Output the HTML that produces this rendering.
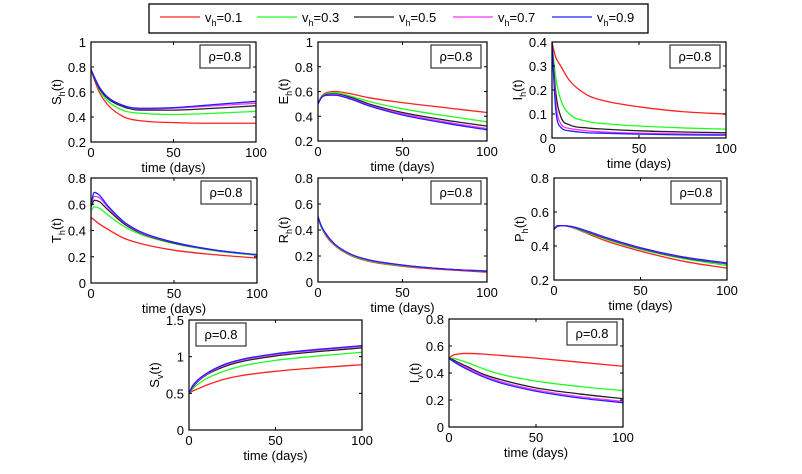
<!DOCTYPE html>
<html><head><meta charset="utf-8"><style>
html,body{margin:0;padding:0;background:#fff}
svg{display:block;font-family:"Liberation Sans",sans-serif}
</style></head><body>
<svg id="fig" width="802" height="474" viewBox="0 0 802 474"></svg>
<script>
const tVals=[0,2,5,10,20,30,50,75,100];
const seriesLabels=["0.1","0.3","0.5","0.7","0.9"];
const colors=["#ff2020","#20ff20","#222222","#ff30ff","#2020ff"];
const shData=[[.78,.7,.6,.5,.4,.37,.355,.35,.35],[.78,.71,.62,.53,.45,.43,.42,.43,.445],[.78,.71,.63,.55,.48,.455,.455,.47,.49],[.78,.72,.64,.56,.49,.465,.47,.49,.51],[.78,.72,.64,.56,.49,.47,.475,.5,.525]];
const ehData=[[.5,.56,.59,.6,.58,.55,.51,.47,.43],[.5,.555,.58,.59,.56,.52,.46,.405,.355],[.5,.55,.575,.58,.55,.5,.43,.37,.32],[.5,.55,.57,.575,.54,.49,.42,.355,.3],[.5,.55,.57,.57,.535,.485,.41,.345,.29]];
const ihData=[[.4,.34,.3,.24,.18,.155,.13,.11,.1],[.4,.26,.16,.1,.07,.06,.05,.042,.037],[.4,.2,.09,.055,.042,.037,.03,.025,.022],[.4,.16,.06,.04,.03,.025,.02,.017,.015],[.4,.13,.045,.03,.022,.02,.016,.013,.012]];
const thData=[[.5,.48,.45,.41,.34,.3,.25,.215,.19],[.55,.58,.57,.52,.43,.37,.3,.245,.21],[.58,.63,.62,.56,.45,.38,.305,.25,.215],[.6,.66,.65,.58,.46,.385,.31,.25,.215],[.6,.69,.67,.59,.465,.39,.31,.25,.215]];
const rhData=[[.5,.42,.35,.28,.2,.16,.12,.095,.075],[.5,.42,.36,.285,.205,.165,.125,.1,.08],[.5,.43,.365,.29,.21,.17,.13,.1,.082],[.5,.43,.365,.29,.21,.17,.13,.1,.083],[.5,.43,.365,.29,.21,.17,.13,.1,.084]];
const phData=[[.5,.515,.52,.51,.47,.43,.37,.31,.27],[.5,.515,.52,.512,.475,.44,.38,.325,.285],[.5,.515,.52,.513,.48,.445,.385,.33,.295],[.5,.518,.52,.514,.483,.448,.388,.333,.298],[.5,.52,.52,.515,.485,.45,.39,.335,.3]];
const svData=[[.5,.53,.56,.61,.69,.74,.8,.85,.89],[.5,.56,.62,.7,.8,.87,.95,1.01,1.06],[.5,.58,.66,.75,.86,.93,1.01,1.07,1.12],[.5,.59,.67,.76,.88,.95,1.03,1.09,1.14],[.5,.6,.68,.77,.89,.96,1.04,1.1,1.15]];
const ivData=[[.51,.53,.54,.545,.54,.53,.51,.48,.45],[.51,.51,.5,.48,.43,.39,.34,.3,.27],[.51,.5,.48,.45,.39,.35,.29,.245,.21],[.51,.49,.47,.44,.38,.335,.275,.225,.19],[.51,.49,.465,.43,.37,.325,.265,.215,.18]];
const xTicks=[0,50,100];
const yTicks1=[0.2,0.4,0.6,0.8,1];
const yTicks3=[0,0.1,0.2,0.3,0.4];
const yTicks08=[0,0.2,0.4,0.6,0.8];
const yTicksP=[0.2,0.4,0.6,0.8];
const yTicksSv=[0,0.5,1,1.5];

const NS="http://www.w3.org/2000/svg";
const svg=document.getElementById('fig');
function el(tag,attrs,parent){const e=document.createElementNS(NS,tag);for(const k in attrs)e.setAttribute(k,attrs[k]);(parent||svg).appendChild(e);return e;}

const lg=el('g',{});


el('rect',{x:149,y:4,width:499,height:29,fill:'#fff',stroke:'#000','stroke-width':1.3},lg);
const lx=[160,257,354,453,552];
seriesLabels.forEach((s,i)=>{
  const g=el('g',{},lg);
  
  
  el('line',{x1:lx[i],x2:lx[i]+40,y1:17,y2:17,stroke:colors[i],'stroke-width':1.3},g);
  const t=el('text',{x:lx[i]+45,y:22,'font-size':13},g);
  t.innerHTML='v<tspan font-size="9" dy="4">h</tspan><tspan dy="-4">='+s+'</tspan>';
});

// monotone cubic (Fritsch-Carlson) path
function monoPath(xs,ys){
  const n=xs.length,dx=[],m=[],tg=new Array(n);
  for(let i=0;i<n-1;i++){dx.push(xs[i+1]-xs[i]);m.push((ys[i+1]-ys[i])/dx[i]);}
  tg[0]=m[0];tg[n-1]=m[n-2];
  for(let i=1;i<n-1;i++){tg[i]=(m[i-1]*m[i]<=0)?0:(m[i-1]+m[i])/2;}
  for(let i=0;i<n-1;i++){
    if(m[i]===0){tg[i]=0;tg[i+1]=0;continue;}
    const a=tg[i]/m[i],b=tg[i+1]/m[i],s=a*a+b*b;
    if(s>9){const k=3/Math.sqrt(s);tg[i]=k*a*m[i];tg[i+1]=k*b*m[i];}
  }
  let d='M'+xs[0]+','+ys[0];
  for(let i=0;i<n-1;i++){
    const h=dx[i]/3;
    d+=' C'+(xs[i]+h)+','+(ys[i]+tg[i]*h)+' '+(xs[i+1]-h)+','+(ys[i+1]-tg[i+1]*h)+' '+xs[i+1]+','+ys[i+1];
  }
  return d;
}
function panel(name,x0,y0,x1,y1,ymin,ymax,yt,data,varName,sub,boxLeft){
  const g=el('g',{});
  
  
  const X=t=>x0+t/100*(x1-x0);
  const Y=v=>y1-(v-ymin)/(ymax-ymin)*(y1-y0);
  el('rect',{x:x0,y:y0,width:x1-x0,height:y1-y0,fill:'#fff'},g);
  const cid='clip-'+name;
  const cp=el('clipPath',{id:cid},g);el('rect',{x:x0,y:y0,width:x1-x0,height:y1-y0},cp);
  const lines=el('g',{'clip-path':'url(#'+cid+')'},g);
  data.forEach((ser,i)=>{
    const d=monoPath(tVals.map(X),ser.map(Y));
    const p=el('path',{d:d,fill:'none',stroke:colors[i],'stroke-width':1.3},lines);
    
    
  });
  el('rect',{x:x0,y:y0,width:x1-x0,height:y1-y0,fill:'none',stroke:'#000','stroke-width':1.2},g);
  xTicks.forEach(t=>{
    el('line',{x1:X(t),x2:X(t),y1:y1,y2:y1-3,stroke:'#000'},g);
    el('line',{x1:X(t),x2:X(t),y1:y0,y2:y0+3,stroke:'#000'},g);
    const tx=el('text',{x:X(t),y:y1+15,'font-size':13,'text-anchor':'middle'},g);tx.textContent=t;
    
  });
  yt.forEach(v=>{
    el('line',{x1:x0,x2:x0+3,y1:Y(v),y2:Y(v),stroke:'#000'},g);
    el('line',{x1:x1,x2:x1-3,y1:Y(v),y2:Y(v),stroke:'#000'},g);
    const tx=el('text',{x:x0-5,y:Y(v)+5,'font-size':13,'text-anchor':'end'},g);tx.textContent=String(v);
    
  });
  const xl=el('text',{x:(x0+x1)/2,y:y1+30,'font-size':13,'text-anchor':'middle'},g);xl.textContent='time (days)';
  
  const yc=(y0+y1)/2, yx=x0-30;
  const yl=el('text',{x:yx,y:yc,'font-size':13,'text-anchor':'middle',transform:'rotate(-90 '+yx+' '+yc+')'},g);
  yl.innerHTML=varName+'<tspan font-size="9" dy="4">'+sub+'</tspan><tspan dy="-4">(t)</tspan>';
  
  const bw=50,bh=23;
  const bx=boxLeft?x0+7:x1-bw-6, by=y0+3;
  const bg=el('g',{},g);
  
  el('rect',{x:bx,y:by,width:bw,height:bh,fill:'#fff',stroke:'#333','stroke-width':1.2},bg);
  const rt=el('text',{x:bx+bw/2,y:by+16,'font-size':13,'text-anchor':'middle'},bg);rt.textContent='ρ=0.8';
}
panel('sh',91,42,256,142,0.2,1,yTicks1,shData,'S','h',false);
panel('eh',318,42,487,141,0.2,1,yTicks1,ehData,'E','h',false);
panel('ih',552,42,726,138,0,0.4,yTicks3,ihData,'I','h',false);
panel('th',91,178,257,283,0,0.8,yTicks08,thData,'T','h',false);
panel('rh',318,178,487,282,0,0.8,yTicks08,rhData,'R','h',false);
panel('ph',554,178,727,280,0.2,0.8,yTicksP,phData,'P','h',false);
panel('sv',189,320,362,430,0,1.5,yTicksSv,svData,'S','v',true);
panel('iv',449,319,623,427,0,0.8,yTicks08,ivData,'I','v',false);
</script>
</body></html>
